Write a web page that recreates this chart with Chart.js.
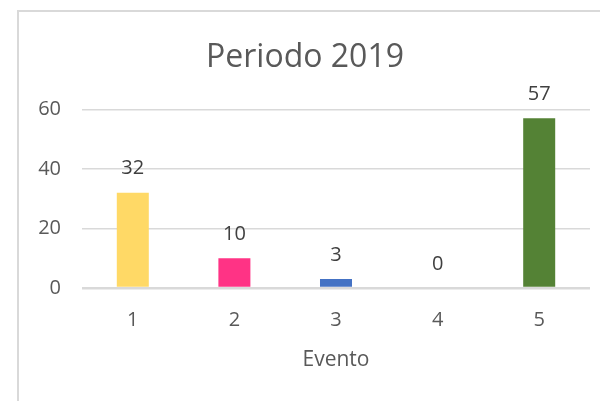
<!DOCTYPE html>
<html>
<head>
<meta charset="utf-8">
<script src="https://cdn.jsdelivr.net/npm/chart.js@4"></script>
<style>
  html, body { margin: 0; padding: 0; background: #fff; }
  #marco { position: absolute; left: 17px; top: 10px; width: 640px; height: 440px; border: 2px solid #d9d9d9; box-sizing: border-box; }
  #caja { position: absolute; left: 0; top: 0; width: 600px; height: 401px; }
</style>
</head>
<body>
<div id="marco"></div>
<div id="caja"><canvas id="grafico" width="600" height="401"></canvas></div>
<script>
const eventos = ['1', '2', '3', '4', '5'];
const cantidades = [32, 10, 3, 0, 57];
const colores = ['#FFD966', '#FF3385', '#4472C4', '#A5A5A5', '#548235'];
const ticksY = [0, 20, 40, 60];

const fuente = "'Open Sans', 'DejaVu Sans', sans-serif";

// etiquetas de valor encima de cada barra
const etiquetas = {
  id: 'etiquetas',
  afterDatasetsDraw(chart) {
    const ctx = chart.ctx;
    const meta = chart.getDatasetMeta(0);
    ctx.save();
    ctx.font = '20px ' + fuente;
    ctx.fillStyle = '#404040';
    ctx.textAlign = 'center';
    ctx.textBaseline = 'middle';
    meta.data.forEach((bar, i) => {
      ctx.fillText(String(cantidades[i]), bar.x, bar.y - 24);
    });
    ctx.restore();
  }
};

new Chart(document.getElementById('grafico'), {
  type: 'bar',
  data: {
    labels: eventos,
    datasets: [{
      label: 'Periodo 2019',
      data: cantidades,
      backgroundColor: colores,
      barPercentage: 0.315,
      categoryPercentage: 1
    }]
  },
  options: {
    responsive: false,
    animation: false,
    layout: {
      padding: { left: 20, right: 10, top: 0, bottom: 0 }
    },
    plugins: {
      legend: { display: false },
      tooltip: { enabled: false },
      title: {
        display: true,
        text: 'Periodo 2019',
        color: '#595959',
        font: { family: fuente, size: 32, weight: 'normal' },
        padding: { top: 39, bottom: 32 }
      }
    },
    scales: {
      x: {
        afterFit(scale) { scale.height = 113; },
        grid: { display: false, drawTicks: false },
        border: { display: false },
        ticks: {
          color: '#595959',
          font: { family: fuente, size: 20 },
          padding: 20
        },
        title: {
          display: true,
          text: 'Evento',
          color: '#595959',
          font: { family: fuente, size: 21 },
          padding: { top: 0, bottom: 28 }
        }
      },
      y: {
        min: 0,
        max: 60,
        afterFit(scale) { scale.width = 62; },
        afterBuildTicks(scale) { scale.ticks = ticksY.map(v => ({ value: v })); },
        grid: {
          color: '#d9d9d9',
          lineWidth: ctx => ctx.tick && ctx.tick.value === 0 ? 2.5 : 1.5,
          drawTicks: false
        },
        border: { display: false },
        ticks: {
          color: '#595959',
          font: { family: fuente, size: 20 },
          padding: 21
        }
      }
    }
  },
  plugins: [etiquetas]
});
</script>
</body>
</html>
